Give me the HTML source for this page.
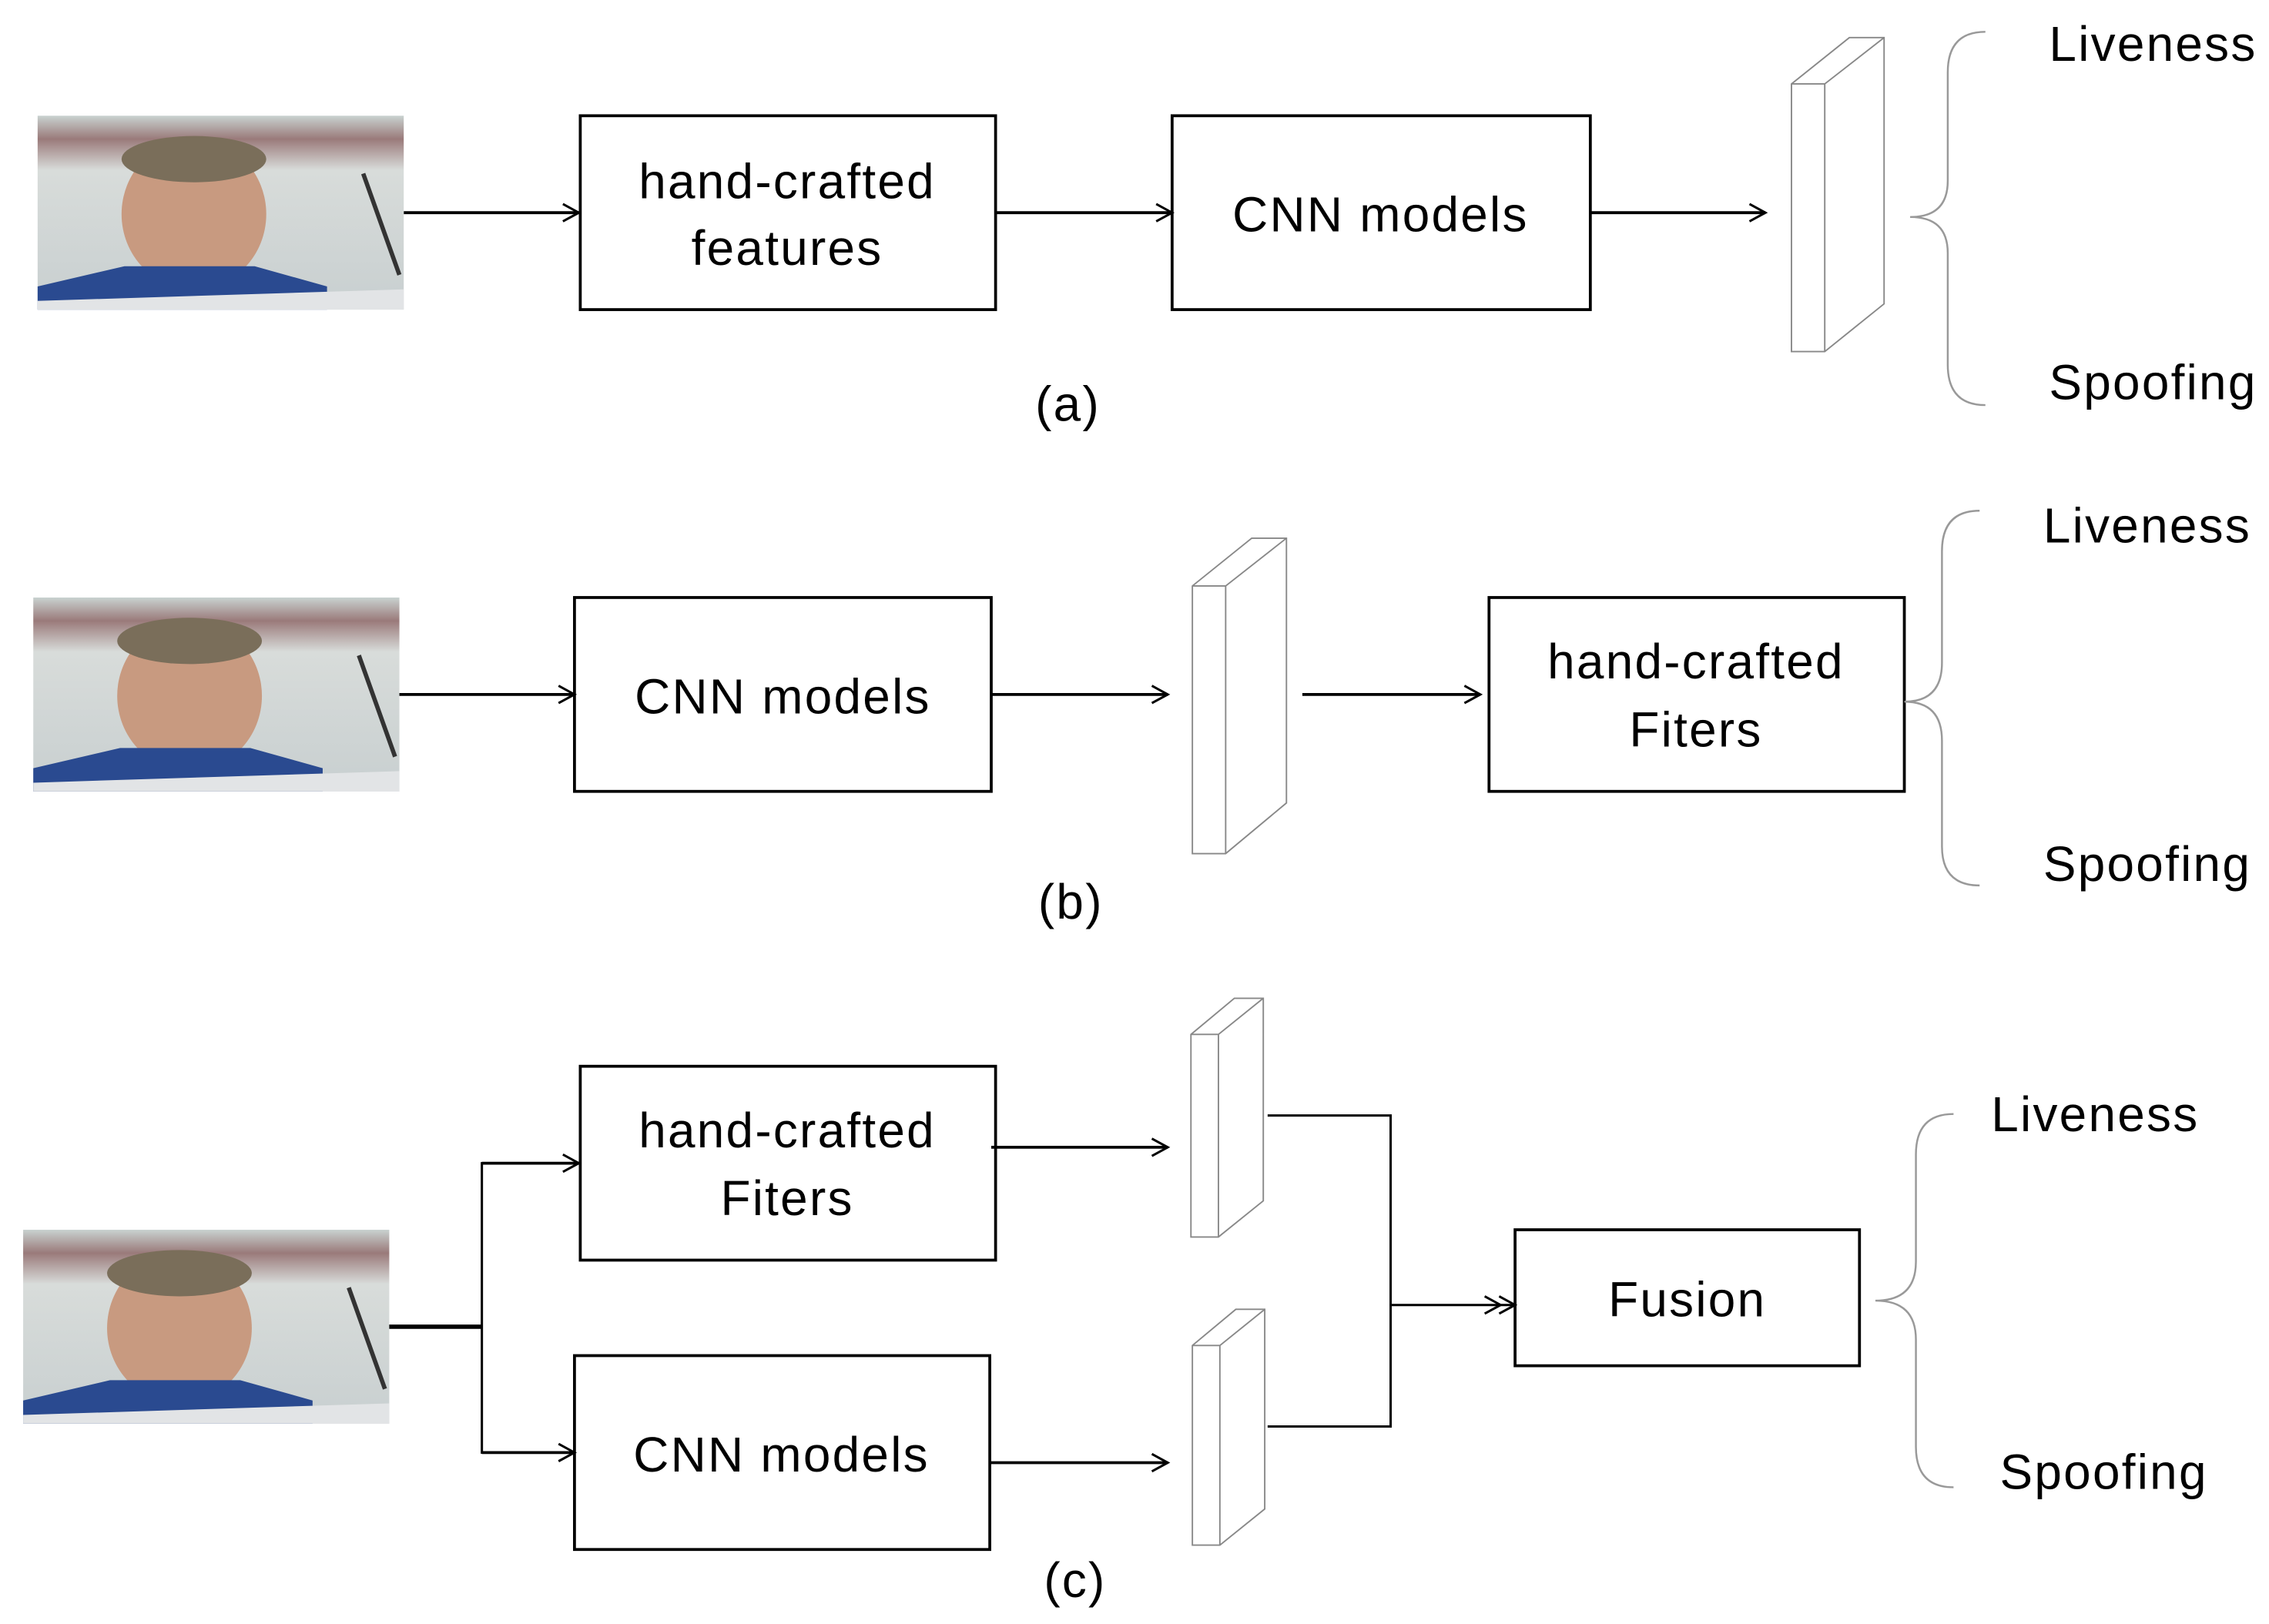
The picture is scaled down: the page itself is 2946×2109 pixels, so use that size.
<!DOCTYPE html>
<html><head><meta charset="utf-8"><style>
html,body{margin:0;padding:0;background:#fff;}
svg{display:block;}
text{font-family:"Liberation Sans",sans-serif;font-size:34px;letter-spacing:1.2px;fill:#000;}
</style></head><body>
<svg width="2946" height="2109" viewBox="0 0 1568 1122.5" preserveAspectRatio="none" xmlns="http://www.w3.org/2000/svg">
<defs>
<linearGradient id="bg" x1="0" y1="0" x2="0" y2="1">
<stop offset="0" stop-color="#c9d2d0"/><stop offset="0.12" stop-color="#9a7a7a"/><stop offset="0.28" stop-color="#d8dcda"/><stop offset="1" stop-color="#c8cfd0"/></linearGradient>
<g id="face">
<rect width="253" height="134" fill="url(#bg)"/>
<ellipse cx="108" cy="68" rx="50" ry="52" fill="#c89a80"/>
<ellipse cx="108" cy="30" rx="50" ry="16" fill="#7a6e5a"/>
<path d="M0 118 L60 104 L150 104 L200 118 L200 134 L0 134Z" fill="#2a4a90"/>
<path d="M0 128 L253 120 L253 134 L0 134Z" fill="#e2e4e6"/>
<line x1="225" y1="40" x2="250" y2="110" stroke="#333" stroke-width="3"/>
</g>
<marker id="ar" markerWidth="14" markerHeight="14" refX="12" refY="7" orient="auto" markerUnits="userSpaceOnUse"><path d="M1 1 L12 7 L1 13" fill="none" stroke="#000" stroke-width="1.6"/></marker>
<marker id="ar2" markerWidth="24" markerHeight="14" refX="22" refY="7" orient="auto" markerUnits="userSpaceOnUse"><path d="M1 1 L12 7 L1 13 M11 1 L22 7 L11 13" fill="none" stroke="#000" stroke-width="1.6"/></marker>
</defs>
<g stroke="#000" stroke-width="2" fill="none">
<line x1="279" y1="147" x2="400" y2="147" marker-end="url(#ar)"/>
<rect x="401" y="80" width="287" height="134"/>
<line x1="688" y1="147" x2="810" y2="147" marker-end="url(#ar)"/>
<rect x="810" y="80" width="289" height="134"/>
<line x1="1099" y1="147" x2="1220" y2="147" marker-end="url(#ar)"/>
<line x1="275" y1="480" x2="397" y2="480" marker-end="url(#ar)"/>
<rect x="397" y="413" width="288" height="134"/>
<line x1="685" y1="480" x2="807" y2="480" marker-end="url(#ar)"/>
<line x1="900" y1="480" x2="1023" y2="480" marker-end="url(#ar)"/>
<rect x="1029" y="413" width="287" height="134"/>
<line x1="268" y1="917" x2="333" y2="917" stroke-width="3"/>
<polyline points="400,804 333,804 333,1004 397,1004" stroke-width="1.6"/>
<line x1="333" y1="804" x2="400" y2="804" marker-end="url(#ar)"/>
<line x1="333" y1="1004" x2="397" y2="1004" marker-end="url(#ar)"/>
<rect x="401" y="737" width="287" height="134"/>
<rect x="397" y="937" width="287" height="134"/>
<line x1="685" y1="793" x2="807" y2="793" marker-end="url(#ar)"/>
<line x1="685" y1="1011" x2="807" y2="1011" marker-end="url(#ar)"/>
<polyline points="876,771 961,771 961,986 876,986" stroke-width="1.6"/>
<line x1="961" y1="902" x2="1047" y2="902" stroke-width="1.6" marker-end="url(#ar2)"/>
<rect x="1047" y="850" width="238" height="94"/>
</g>
<g stroke="#888" stroke-width="1" fill="#fff">
<path d="M1238 58 L1278 26 L1302 26 L1302 210 L1261 243 L1238 243Z"/><path d="M1238 58 L1261 58 L1302 26 M1261 58 L1261 243" fill="none"/>
<path d="M824 405 L865 372 L889 372 L889 555 L847 590 L824 590Z"/><path d="M824 405 L847 405 L889 372 M847 405 L847 590" fill="none"/>
<path d="M823 715 L853 690 L873 690 L873 830 L842 855 L823 855Z"/><path d="M823 715 L842 715 L873 690 M842 715 L842 855" fill="none"/>
<path d="M824 930 L854 905 L874 905 L874 1043 L843 1068 L824 1068Z"/><path d="M824 930 L843 930 L874 905 M843 930 L843 1068" fill="none"/>
</g>
<g stroke="#999" stroke-width="1.3" fill="none">
<path d="M1372 22 Q1346 22 1346 50 L1346 125 Q1346 150 1320 150 Q1346 150 1346 175 L1346 252 Q1346 280 1372 280"/>
<path d="M1368 353 Q1342 353 1342 381 L1342 458 Q1342 485 1316 485 Q1342 485 1342 512 L1342 585 Q1342 612 1368 612"/>
<path d="M1350 770 Q1324 770 1324 798 L1324 872 Q1324 899 1296 899 Q1324 899 1324 926 L1324 1000 Q1324 1028 1350 1028"/>
</g>
<use href="#face" x="26" y="80"/>
<use href="#face" x="23" y="413"/>
<use href="#face" x="16" y="850"/>
<g text-anchor="middle">
<text x="544" y="137">hand-crafted</text><text x="544" y="183">features</text>
<text x="954" y="160">CNN models</text>
<text x="738" y="291">(a)</text>
<text x="541" y="493">CNN models</text>
<text x="1172" y="469">hand-crafted</text><text x="1172" y="516">Fiters</text>
<text x="740" y="635">(b)</text>
<text x="544" y="793">hand-crafted</text><text x="544" y="840">Fiters</text>
<text x="540" y="1017">CNN models</text>
<text x="1166" y="910">Fusion</text>
<text x="743" y="1104">(c)</text>
</g>
<text x="1416" y="42">Liveness</text><text x="1416" y="276">Spoofing</text>
<text x="1412" y="375">Liveness</text><text x="1412" y="609">Spoofing</text>
<text x="1376" y="782">Liveness</text><text x="1382" y="1029">Spoofing</text>
</svg>
</body></html>
